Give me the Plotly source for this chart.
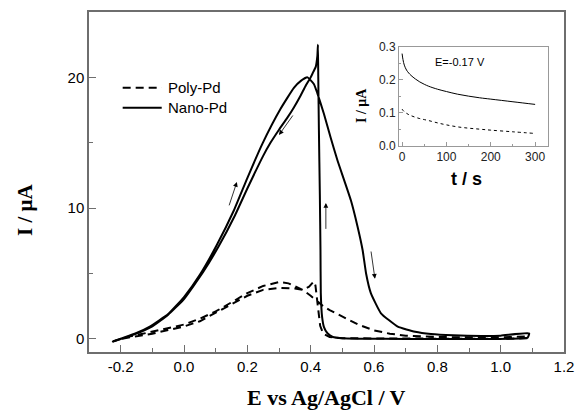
import plotly.graph_objects as go

# ---- Main CV data (E vs Ag/AgCl / V, I / uA) ----
nano_fwd_E = [-0.225, -0.15, -0.108, -0.05, 0.0, 0.05, 0.104, 0.157, 0.2, 0.247, 0.305, 0.347,
              0.37, 0.39, 0.41, 0.421, 0.442, 0.463, 0.484, 0.527, 0.548, 0.564, 0.575, 0.59,
              0.622, 0.675, 0.73, 0.78, 0.85, 0.94, 1.0, 1.09]
nano_fwd_I = [-0.2, 0.45, 0.94, 1.9, 3.2, 4.9, 7.2, 9.8, 12.3, 14.9, 17.6, 19.2,
              19.75, 20.0, 19.5, 18.8, 17.2, 15.4, 13.7, 10.6, 8.6, 6.8, 5.0, 3.5,
              1.96, 0.94, 0.55, 0.38, 0.28, 0.23, 0.25, 0.43]

nano_rev_E = [1.085, 0.9, 0.7, 0.55, 0.5, 0.47, 0.453, 0.442, 0.436, 0.432, 0.431, 0.429, 0.426,
              0.424, 0.423, 0.421, 0.416, 0.408, 0.40, 0.385, 0.368, 0.347, 0.326, 0.3, 0.273,
              0.25, 0.2, 0.16, 0.11, 0.06, 0.0, -0.05, -0.1, -0.15, -0.225]
nano_rev_I = [0.1, 0.0, 0.0, 0.02, 0.05, 0.15, 0.43, 0.9, 1.7, 3.5, 6.8, 11.0, 16.0,
              20.0, 22.5, 21.6, 20.8, 20.4, 20.0, 19.4, 18.6, 17.7, 16.9, 16.0, 15.0,
              14.0, 11.5, 9.4, 7.1, 5.1, 3.05, 1.85, 0.95, 0.4, -0.2]

poly_fwd_E = [-0.225, -0.18, -0.12, -0.05, 0.0, 0.05, 0.1, 0.15, 0.2, 0.25, 0.3, 0.33, 0.375,
              0.4, 0.44, 0.46, 0.5, 0.55, 0.6, 0.65, 0.7, 0.8, 0.9, 1.0, 1.085]
poly_fwd_I = [-0.2, 0.15, 0.45, 0.8, 1.1, 1.55, 2.1, 2.8, 3.5, 4.05, 4.35, 4.25, 3.75,
              3.3, 2.5, 2.2, 1.7, 1.1, 0.65, 0.4, 0.25, 0.15, 0.12, 0.12, 0.2]

poly_rev_E = [1.085, 1.0, 0.9, 0.8, 0.7, 0.6, 0.5, 0.46, 0.44, 0.43, 0.425, 0.42, 0.415, 0.41,
              0.395, 0.375, 0.35, 0.3, 0.25, 0.2, 0.15, 0.1, 0.05, 0.0, -0.05, -0.1, -0.15,
              -0.2, -0.225]
poly_rev_I = [0.05, 0.0, 0.0, 0.0, 0.0, 0.0, 0.05, 0.15, 0.4, 1.0, 2.0, 3.2, 4.1, 4.4,
              4.0, 3.75, 3.85, 3.9, 3.75, 3.3, 2.65, 1.95, 1.35, 0.95, 0.65, 0.4, 0.2,
              0.0, -0.2]

# ---- Inset chronoamperometry data (t / s, I / uA) ----
inset_t = [0, 2, 5, 10, 15, 20, 30, 40, 50, 60, 80, 100, 125, 150, 175, 200, 250, 300]
inset_nano = [0.28, 0.262, 0.245, 0.23, 0.221, 0.214, 0.203, 0.194, 0.187, 0.181, 0.172,
              0.165, 0.157, 0.151, 0.146, 0.142, 0.134, 0.126]
inset_poly = [0.112, 0.108, 0.104, 0.099, 0.095, 0.092, 0.087, 0.083, 0.080, 0.077, 0.070,
              0.064, 0.058, 0.054, 0.051, 0.048, 0.043, 0.038]

series_names = ["Poly-Pd", "Nano-Pd"]
x_ticks = [-0.2, 0.0, 0.2, 0.4, 0.6, 0.8, 1.0, 1.2]
x_tick_labels = ["-0.2", "0.0", "0.2", "0.4", "0.6", "0.8", "1.0", "1.2"]
y_ticks = [0, 10, 20]
inset_x_ticks = [0, 100, 200, 300]
inset_y_ticks = [0.0, 0.1, 0.2, 0.3]
inset_y_labels = ["0.0", "0.1", "0.2", "0.3"]

# arrows: (tail E, tail I, head E, head I)
arrows = [
    (0.141, 10.1, 0.167, 12.0),
    (0.347, 17.2, 0.300, 15.6),
    (0.448, 8.3, 0.448, 10.4),
    (0.590, 6.8, 0.603, 4.6),
]

fig = go.Figure()

dash_main = "8px,5px"
fig.add_trace(go.Scatter(x=poly_fwd_E + poly_rev_E, y=poly_fwd_I + poly_rev_I, mode="lines",
                         name=series_names[0], showlegend=False,
                         line=dict(color="black", width=2, dash=dash_main)))
fig.add_trace(go.Scatter(x=nano_fwd_E + nano_rev_E, y=nano_fwd_I + nano_rev_I, mode="lines",
                         name=series_names[1], showlegend=False,
                         line=dict(color="black", width=2, shape="spline", smoothing=0.4)))

fig.add_trace(go.Scatter(x=inset_t, y=inset_nano, mode="lines", xaxis="x2", yaxis="y2",
                         name=series_names[1] + " (i-t)", showlegend=False,
                         line=dict(color="black", width=1, shape="spline")))
fig.add_trace(go.Scatter(x=inset_t, y=inset_poly, mode="lines", xaxis="x2", yaxis="y2",
                         name=series_names[0] + " (i-t)", showlegend=False,
                         line=dict(color="black", width=1, dash="3px,3px", shape="spline")))

tickfont = dict(family="Liberation Sans, Arial", size=15, color="black")
axis_line = "#6e6e6e"

fig.update_layout(
    width=576, height=413,
    margin=dict(l=89, r=12, t=12, b=61, autoexpand=False),
    paper_bgcolor="white", plot_bgcolor="white",
    showlegend=False,
    xaxis=dict(range=[-0.3, 1.2], tickvals=x_ticks, ticktext=x_tick_labels, ticks="inside",
               ticklen=7, tickwidth=1, tickcolor=axis_line, showline=True, linecolor=axis_line,
               linewidth=1.5, mirror=True, showgrid=False, zeroline=False, tickfont=tickfont,
               automargin=False,
               minor=dict(dtick=0.1, tick0=0, ticks="inside", ticklen=4, tickcolor=axis_line)),
    yaxis=dict(range=[-1, 25], tickvals=y_ticks, ticks="inside", ticklen=7, tickwidth=1,
               tickcolor=axis_line, showline=True, linecolor=axis_line, linewidth=1.5,
               mirror=True, showgrid=False, zeroline=False, tickfont=tickfont,
               automargin=False,
               minor=dict(dtick=5, tick0=0, ticks="inside", ticklen=4, tickcolor=axis_line)),
    xaxis2=dict(domain=[0.6526, 0.9663], anchor="y2", range=[-7, 329], tickvals=inset_x_ticks,
                ticks="inside", ticklen=4, tickcolor="#999999", showline=True,
                linecolor="#999999", linewidth=1, mirror=True, showgrid=False, zeroline=False,
                automargin=False,
                tickfont=dict(family="Liberation Sans, Arial", size=12, color="#222222"),
                minor=dict(dtick=50, tick0=0, ticks="inside", ticklen=2, tickcolor="#999999")),
    yaxis2=dict(domain=[0.6059, 0.8971], anchor="x2", range=[0, 0.3], tickvals=inset_y_ticks,
                ticktext=inset_y_labels, ticks="inside", ticklen=4, tickcolor="#999999",
                showline=True, linecolor="#999999", linewidth=1, mirror=True, showgrid=False,
                zeroline=False, automargin=False,
                tickfont=dict(family="Liberation Sans, Arial", size=12, color="#222222"),
                minor=dict(dtick=0.05, tick0=0, ticks="inside", ticklen=2, tickcolor="#999999")),
)

# manual legend (sample lines + labels)
legend_rows = [(series_names[0], dash_main, 0.7774), (series_names[1], "solid", 0.7185)]
shapes = []
annotations = []
for name, dash, yy in legend_rows:
    shapes.append(dict(type="line", xref="paper", yref="paper", x0=0.0709, x1=0.1531,
                       y0=yy, y1=yy, line=dict(color="black", width=2, dash=dash)))
    annotations.append(dict(text=name, xref="paper", yref="paper", x=0.1615, y=yy,
                            xanchor="left", yanchor="middle", showarrow=False,
                            font=dict(family="Liberation Sans, Arial", size=15,
                                      color="black")))

annotations += [
    dict(text="<b>E vs Ag/AgCl / V</b>", xref="paper", yref="paper", x=0.5, y=-0.135,
         xanchor="center", yanchor="middle", showarrow=False,
         font=dict(family="Liberation Serif, Times New Roman", size=22, color="black")),
    dict(text="<b>I / μA</b>", xref="paper", yref="paper", x=-0.1347, y=0.4176,
         xanchor="center", yanchor="middle", showarrow=False, textangle=-90,
         font=dict(family="Liberation Serif, Times New Roman", size=21, color="black")),
    dict(text="<b>I / μA</b>", xref="paper", yref="paper", x=(361 - 89) / 475,
         y=(352 - 106) / 340, xanchor="center", yanchor="middle", showarrow=False,
         textangle=-90,
         font=dict(family="Liberation Serif, Times New Roman", size=14, color="black")),
    dict(text="<b>t / s</b>", xref="paper", yref="paper", x=(466 - 89) / 475,
         y=(352 - 179) / 340, xanchor="center", yanchor="middle", showarrow=False,
         font=dict(family="Liberation Sans, Arial", size=18, color="black")),
    dict(text="E=-0.17 V", xref="x2", yref="y2", x=131, y=0.255, xanchor="center",
         yanchor="middle", showarrow=False,
         font=dict(family="Liberation Sans, Arial", size=11, color="black")),
]
for (e0, i0, e1, i1) in arrows:
    annotations.append(dict(x=e1, y=i1, ax=e0, ay=i0, xref="x", yref="y", axref="x",
                            ayref="y", text="", showarrow=True, arrowhead=2, arrowsize=1.2,
                            arrowwidth=0.8, arrowcolor="black"))
fig.update_layout(annotations=annotations, shapes=shapes)

fig.write_html("out.html", config={"displayModeBar": False},
               post_script="document.body.style.margin='0px';"
                           "document.documentElement.style.overflow='hidden';")
